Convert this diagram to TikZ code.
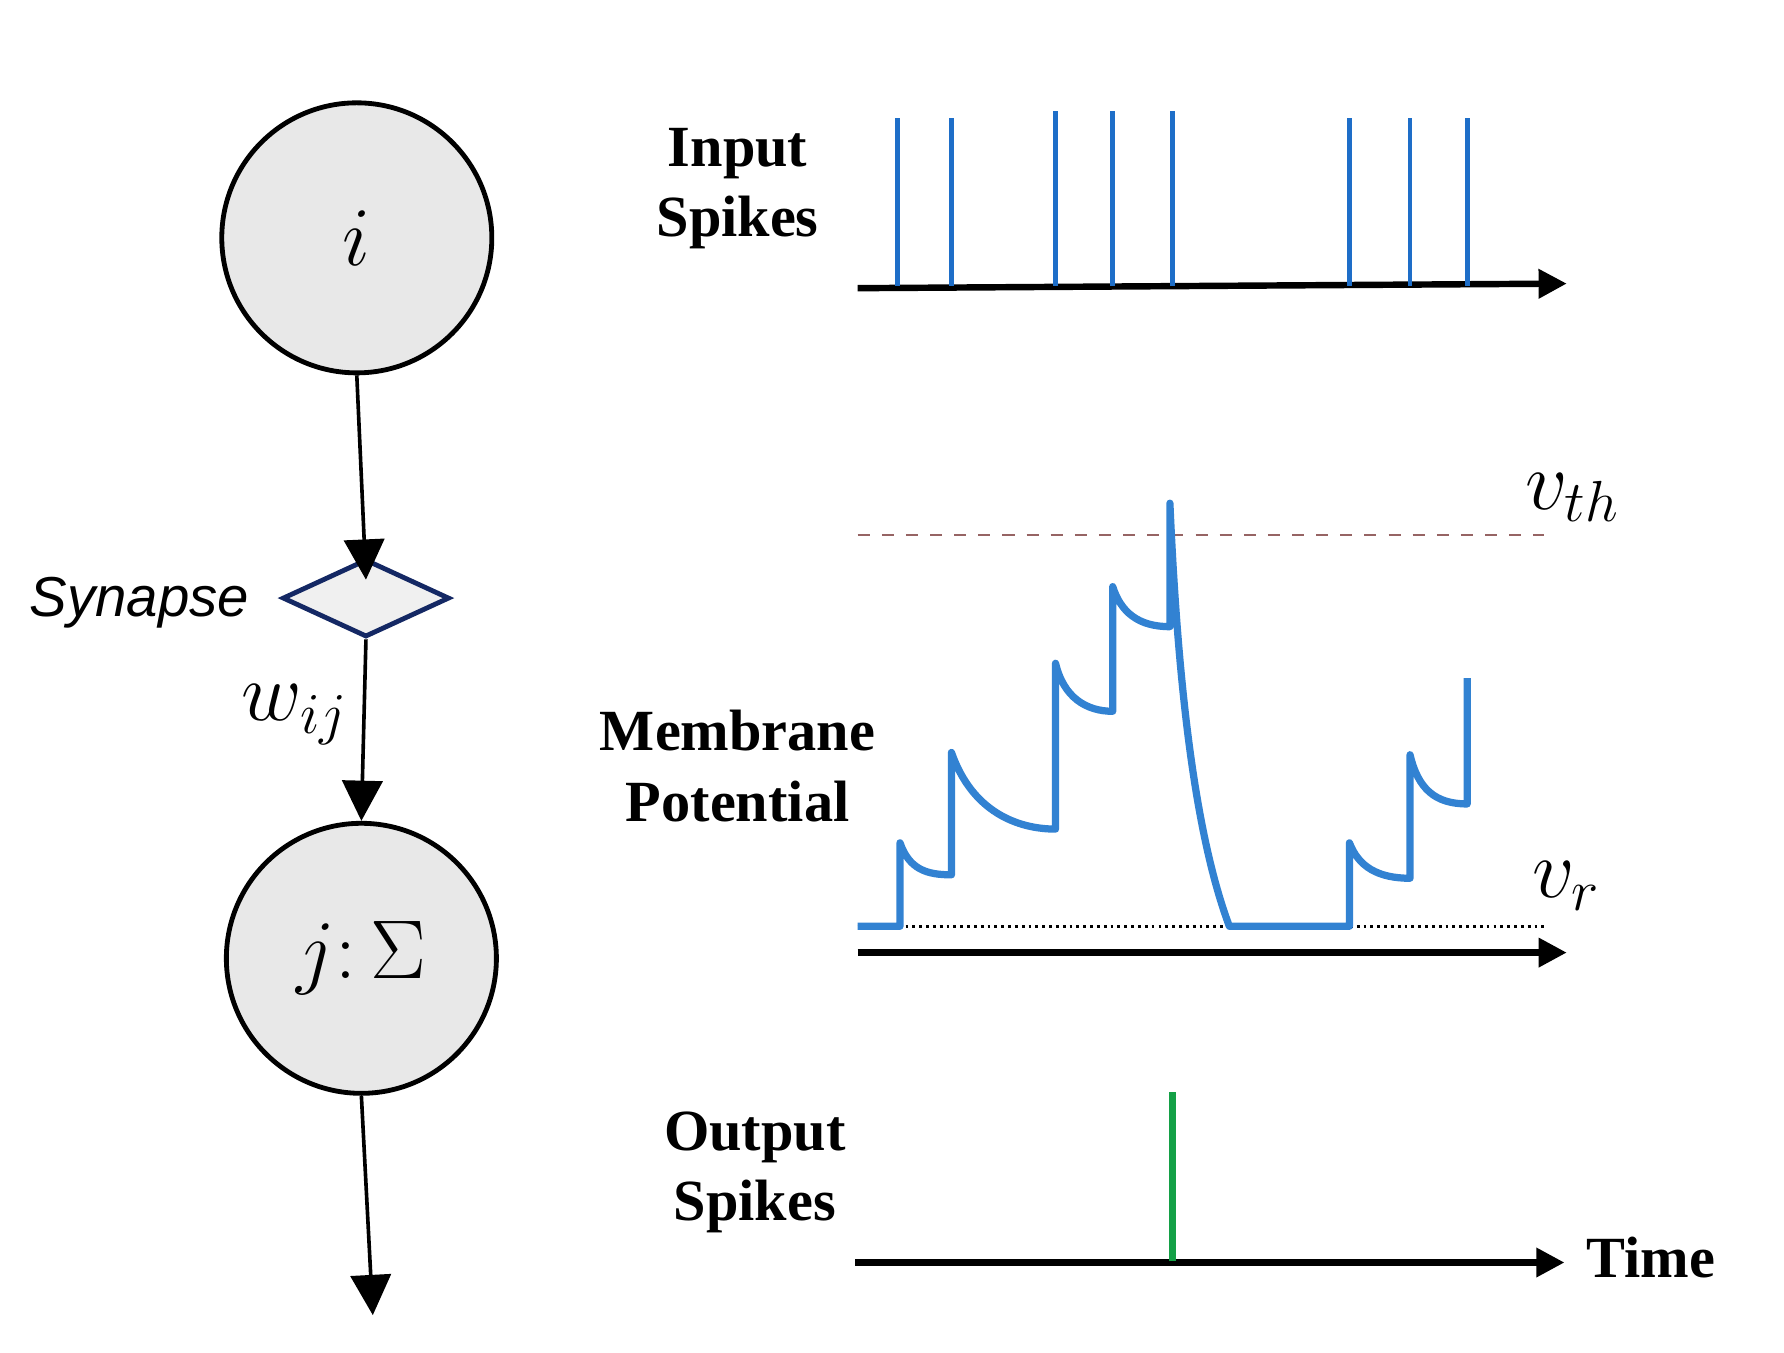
\documentclass[tikz,border=0pt]{standalone}
\usepackage{fontspec}
\setmainfont{Liberation Serif}
\newfontfamily\sansf{Liberation Sans}
\usetikzlibrary{shapes.geometric,arrows.meta}
\begin{document}
\begin{tikzpicture}[x=0.01cm,y=-0.01cm,
  neuron/.style={circle,draw=black,line width=1.2pt,fill=gray!18,minimum size=2.36cm,inner sep=0pt},
  arr/.style={line width=0.9pt,-{Triangle[length=10pt,width=10pt]}},
  axis/.style={line width=1.6pt,-{Triangle[length=7pt,width=7pt]}},
  spike/.style={line width=1.2pt,draw={rgb,255:red,30;green,110;blue,200}},
  lbl/.style={font=\bfseries\fontsize{14.5}{17.5}\selectfont,align=center}]
\useasboundingbox (0,0) rectangle (1560,1183);
\node[neuron] (i) at (312,208) {\fontsize{20}{22}\selectfont$i$};
\node[diamond,draw={rgb,255:red,20;green,40;blue,100},line width=1.2pt,fill=gray!12,minimum width=1.46cm,minimum height=0.68cm,inner sep=0pt] (s) at (320,523) {};
\node[neuron] (j) at (316,838) {\fontsize{20}{22}\selectfont$j\colon\Sigma$};
\coordinate (out) at (326,1150);
\node[anchor=east,font=\sansf\itshape\fontsize{14}{17}\selectfont] (syn) at (230,527) {Synapse};
\node[font=\fontsize{20}{22}\selectfont] (w) at (258,625) {$w_{ij}$};
\draw[arr] (i.south) -- ([yshift=-0.2cm]s.north);
\draw[arr] (s.south) -- (j.north);
\draw[arr] (j.south) -- (out);
% input spikes
\node[lbl] (inl) at (645,165) {Input\\Spikes};
\coordinate (a1s) at (750,252); \coordinate (a1e) at (1370,248);
\draw[axis] (a1s) -- (a1e);
\foreach \x/\t in {785/103,832/103,923/97,973/97,1025/97,1180/103,1233/103,1283/103}
  \draw[spike] (\x,250) -- (\x,\t);
% membrane
\node[lbl] (mpl) at (645,670) {Membrane\\Potential};
\draw[dashed,draw={rgb,255:red,150;green,100;blue,100},line width=0.6pt] (750,468) -- (1350,468);
\draw[densely dotted,line width=0.7pt] (750,810) -- (1350,810);
\node[font=\fontsize{22}{24}\selectfont] (vth) at (1375,435) {$v_{th}$};
\node[font=\fontsize{22}{24}\selectfont] (vr) at (1370,775) {$v_{r}$};
\coordinate (a2s) at (750,833); \coordinate (a2e) at (1370,833);
\draw[axis] (a2s) -- (a2e);
\draw[line width=1.8pt,draw={rgb,255:red,50;green,130;blue,210},line join=round]
 (750,810) -- (787,810) -- (787,737) .. controls (795,760) and (810,765) .. (832,765)
 -- (832,658) .. controls (850,710) and (890,725) .. (923,725)
 -- (923,580) .. controls (930,610) and (950,622) .. (973,622)
 -- (973,513) .. controls (980,535) and (995,548) .. (1023,548)
 -- (1023,440) .. controls (1030,600) and (1045,730) .. (1075,810)
 -- (1180,810) -- (1180,737) .. controls (1188,758) and (1205,768) .. (1233,768)
 -- (1233,660) .. controls (1240,690) and (1255,703) .. (1283,703) -- (1283,593);
% output
\node[lbl] (outl) at (660,1025) {Output\\Spikes};
\coordinate (a3s) at (748,1104); \coordinate (a3e) at (1368,1104);
\draw[axis] (a3s) -- (a3e);
\draw[line width=1.8pt,draw={rgb,255:red,20;green,160;blue,70}] (1025,1103) -- (1025,955);
\node[lbl,anchor=west] (time) at (1375,1100) {Time};
\end{tikzpicture}
\end{document}
